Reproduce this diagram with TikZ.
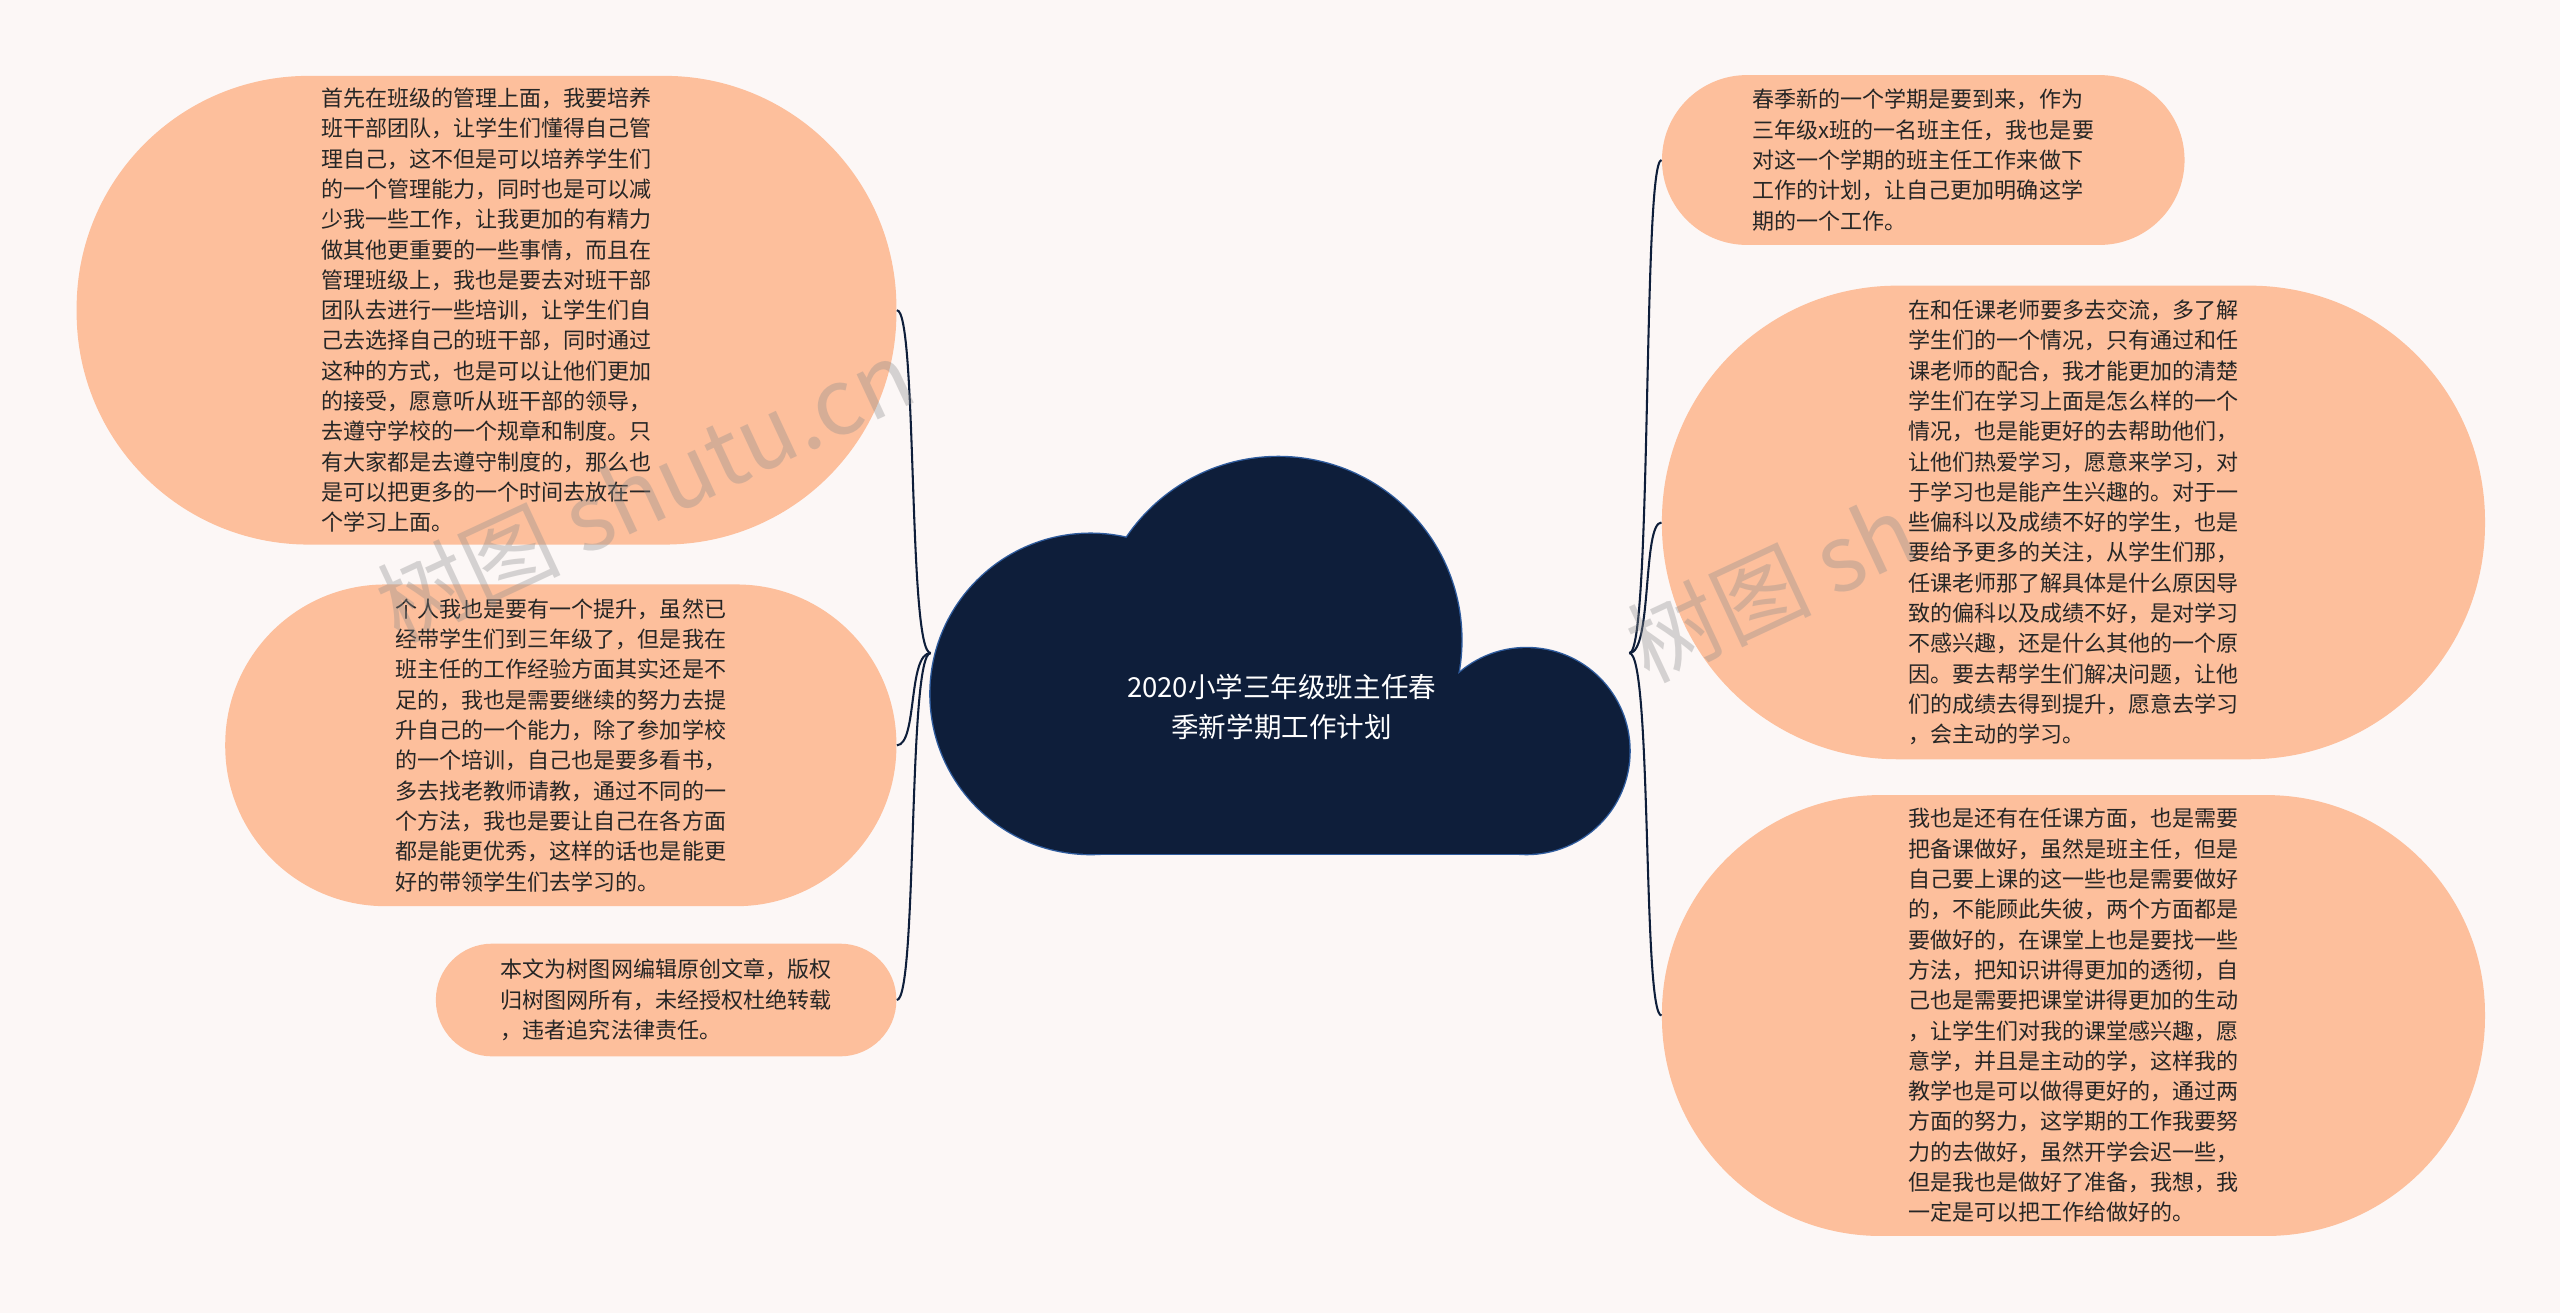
\documentclass[tikz,border=0pt]{standalone}
\usepackage{fontspec}
\newfontfamily\cjk{Noto Sans CJK SC}
\definecolor{bgpink}{HTML}{FCF7F6}
\definecolor{peach}{HTML}{FDBF9C}
\definecolor{navy}{HTML}{0E1E3A}
\definecolor{cloudedge}{HTML}{2F5C9E}
\tikzset{
  bubble/.style={draw=none, fill=peach, align=left, text=black!85,
    font=\cjk\fontsize{9.6}{13.2}\selectfont, inner sep=0pt},
  branch/.style={draw=navy, line width=0.9pt},
  watermark/.style={font=\cjk\fontsize{40}{40}\selectfont, text=black!45, opacity=0.35, rotate=25}
}
\begin{document}
\begin{tikzpicture}[x=0.025cm, y=-0.025cm]
  % background
  \fill[bgpink] (0,0) rectangle (1568,804);
  \useasboundingbox (0,0) rectangle (1568,804);

  % cloud
  \begin{scope}[draw=cloudedge, line width=1.2pt]
    \draw (668,425) circle (2.45cm);
    \draw (783,392) circle (2.8cm);
    \draw (935,460) circle (1.575cm);
    \draw (668,425) rectangle (935,523);
  \end{scope}
  \begin{scope}[fill=navy]
    \fill (668,425) circle (2.45cm);
    \fill (783,392) circle (2.8cm);
    \fill (935,460) circle (1.575cm);
    \fill (668,425) rectangle (935,523);
  \end{scope}
  \node[text=white, align=center, font=\cjk\fontsize{12}{17}\selectfont] (root) at (785,433)
    {2020小学三年级班主任春\\季新学期工作计划};

  \coordinate (hubl) at (570,400);
  \coordinate (hubr) at (998,400);

  % left side
  \node[bubble, minimum width=12.55cm, minimum height=7.175cm, rounded corners=3.55cm] (l1) at (298,190)
    {首先在班级的管理上面，我要培养\\班干部团队，让学生们懂得自己管\\理自己，这不但是可以培养学生们\\的一个管理能力，同时也是可以减\\少我一些工作，让我更加的有精力\\做其他更重要的一些事情，而且在\\管理班级上，我也是要去对班干部\\团队去进行一些培训，让学生们自\\己去选择自己的班干部，同时通过\\这种的方式，也是可以让他们更加\\的接受，愿意听从班干部的领导，\\去遵守学校的一个规章和制度。只\\有大家都是去遵守制度的，那么也\\是可以把更多的一个时间去放在一\\个学习上面。};
  \node[bubble, minimum width=10.275cm, minimum height=4.925cm, rounded corners=2.45cm] (l2) at (343.5,456.5)
    {个人我也是要有一个提升，虽然已\\经带学生们到三年级了，但是我在\\班主任的工作经验方面其实还是不\\足的，我也是需要继续的努力去提\\升自己的一个能力，除了参加学校\\的一个培训，自己也是要多看书，\\多去找老教师请教，通过不同的一\\个方法，我也是要让自己在各方面\\都是能更优秀，这样的话也是能更\\好的带领学生们去学习的。};
  \node[bubble, minimum width=7.05cm, minimum height=1.725cm, rounded corners=0.86cm] (l3) at (408,612.5)
    {本文为树图网编辑原创文章，版权\\归树图网所有，未经授权杜绝转载\\，违者追究法律责任。};

  % right side
  \node[bubble, minimum width=8cm, minimum height=2.6cm, rounded corners=1.3cm] (r1) at (1178,98)
    {春季新的一个学期是要到来，作为\\三年级x班的一名班主任，我也是要\\对这一个学期的班主任工作来做下\\工作的计划，让自己更加明确这学\\期的一个工作。};
  \node[bubble, minimum width=12.6cm, minimum height=7.25cm, rounded corners=3.6cm] (r2) at (1270,320)
    {在和任课老师要多去交流，多了解\\学生们的一个情况，只有通过和任\\课老师的配合，我才能更加的清楚\\学生们在学习上面是怎么样的一个\\情况，也是能更好的去帮助他们，\\让他们热爱学习，愿意来学习，对\\于学习也是能产生兴趣的。对于一\\些偏科以及成绩不好的学生，也是\\要给予更多的关注，从学生们那，\\任课老师那了解具体是什么原因导\\致的偏科以及成绩不好，是对学习\\不感兴趣，还是什么其他的一个原\\因。要去帮学生们解决问题，让他\\们的成绩去得到提升，愿意去学习\\，会主动的学习。};
  \node[bubble, minimum width=12.6cm, minimum height=6.75cm, rounded corners=3.35cm] (r3) at (1270,622)
    {我也是还有在任课方面，也是需要\\把备课做好，虽然是班主任，但是\\自己要上课的这一些也是需要做好\\的，不能顾此失彼，两个方面都是\\要做好的，在课堂上也是要找一些\\方法，把知识讲得更加的透彻，自\\己也是需要把课堂讲得更加的生动\\，让学生们对我的课堂感兴趣，愿\\意学，并且是主动的学，这样我的\\教学也是可以做得更好的，通过两\\方面的努力，这学期的工作我要努\\力的去做好，虽然开学会迟一些，\\但是我也是做好了准备，我想，我\\一定是可以把工作给做好的。};

  % connectors
  \draw[branch] (hubl) .. controls (556,400) and (562,190) .. (l1.east);
  \draw[branch] (hubl) .. controls (556,400) and (562,456) .. (l2.east);
  \draw[branch] (hubl) .. controls (556,400) and (562,612) .. (l3.east);
  \draw[branch] (hubr) .. controls (1012,400) and (1006,98) .. (r1.west);
  \draw[branch] (hubr) .. controls (1012,400) and (1006,320) .. (r2.west);
  \draw[branch] (hubr) .. controls (1012,400) and (1006,622) .. (r3.west);

  % watermarks
  \node[watermark] (wm1) at (395,300) {树图 shutu.cn};
  \node[watermark] (wm2) at (1085,360) {树图 sh};
\end{tikzpicture}
\end{document}
